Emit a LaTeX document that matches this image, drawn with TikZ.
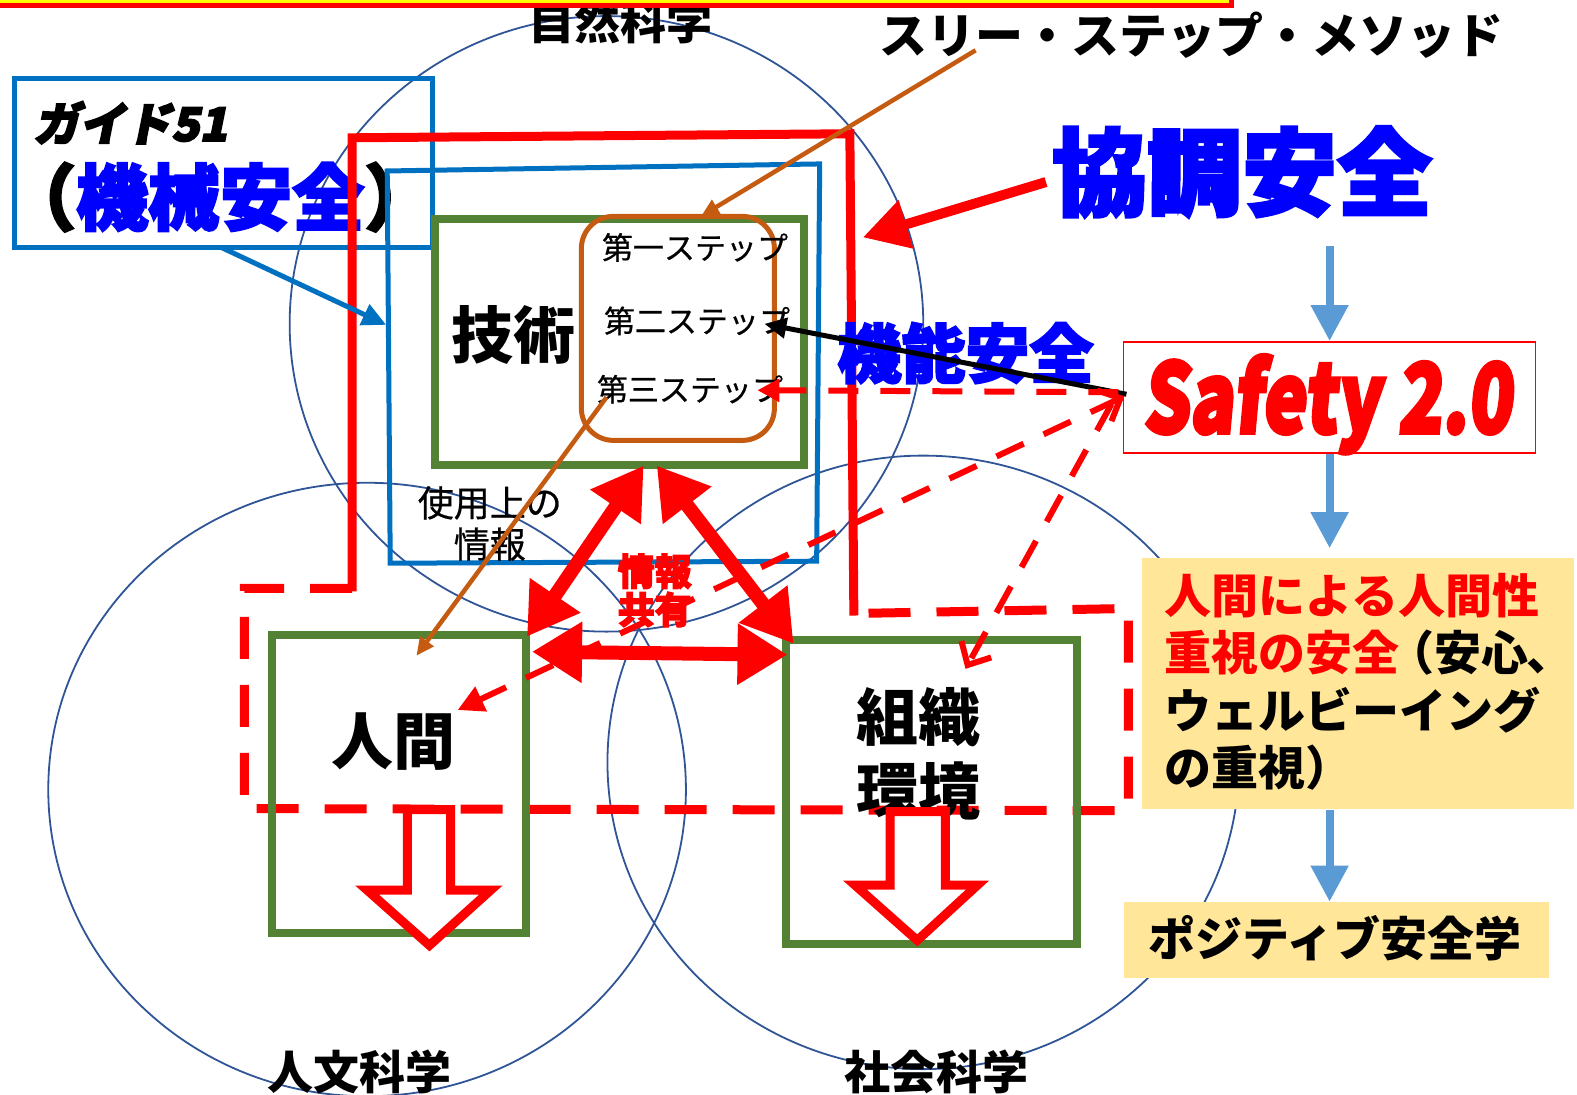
\documentclass[tikz,border=0pt]{standalone}
\usepackage{fontspec}
\usepackage{graphicx}
\setmainfont{Noto Sans CJK JP}
\newfontfamily\heavyjp{Noto Sans CJK JP}[FakeBold=3]
\newfontfamily\heavyit{Noto Sans CJK JP}[FakeBold=4,FakeSlant=0.2]
\newfontfamily\popit{Noto Sans CJK JP}[FakeBold=4,FakeSlant=0.12]
\newfontfamily\medjp{Noto Sans CJK JP}[FakeBold=0.6]
\usetikzlibrary{arrows.meta}
\definecolor{circblue}{HTML}{2F5597}
\definecolor{blueA}{HTML}{0070C0}
\definecolor{tblue}{HTML}{0000FF}
\definecolor{grn}{HTML}{548235}
\definecolor{org}{HTML}{C55A11}
\definecolor{lblue}{HTML}{5B9BD5}
\definecolor{yel}{HTML}{FFE699}
\definecolor{barY}{HTML}{FFFF00}
\begin{document}
\begin{tikzpicture}[x=1.0057pt,y=-1.0057pt,
  every node/.style={inner sep=0pt},
  fs/.style={font=\fontsize{#1}{#1}\selectfont\bfseries},
  fr/.style={font=\fontsize{#1}{#1}\selectfont\medjp},
  fh/.style={font=\fontsize{#1}{#1}\selectfont\heavyjp\bfseries},
  circ/.style={draw=circblue, line width=1.8pt},
  gbox/.style={draw=grn, line width=8pt},
  redline/.style={draw=red, line width=9pt},
  reddash/.style={draw=red, line width=9pt, dash pattern=on 42pt off 26pt},
  sdash/.style={draw=red, line width=6pt, dash pattern=on 30pt off 22pt},
  dbl/.style={draw=red, line width=14pt, {Triangle[length=50pt,width=58pt]}-{Triangle[length=50pt,width=58pt]}},
  hollow/.style={draw=red, fill=white, line width=9pt, line join=miter},
  orgarrow/.style={draw=org, line width=4.5pt, -{Triangle[length=18pt,width=16pt]}},
  bluearrow/.style={draw=blueA, line width=5pt, -{Triangle[length=24pt,width=22pt]}},
  lbarrow/.style={draw=lblue, line width=8pt, -{Triangle[length=36pt,width=36pt]}},
  blackarrow/.style={draw=black, line width=5pt, -{Triangle[length=22pt,width=20pt]}}
]
\useasboundingbox (0,0) rectangle (1568,1087.8);

% circles
\draw[circ] (603,322) ellipse [x radius=315, y radius=306];
\draw[circ] (365,785) ellipse [x radius=317, y radius=305];
\draw[circ] (918,758) ellipse [x radius=314, y radius=305];

\node[fs=46] (shizen) at (617,22) {自然科学};
\node[fs=46] (jinbun) at (357,1066) {人文科学};
\node[fs=46] (shakai) at (931,1066) {社会科学};

% top bar
\draw[draw=red, fill=barY, line width=5pt] (-10,-40) rectangle (1224,5.5);

% guide 51 box
\node[draw=blueA, line width=4.5pt, minimum width=418, minimum height=169] (guide) at (222,162) {};
\node[font=\fontsize{46}{46}\selectfont\heavyit\bfseries, anchor=west] (g51) at (33,122) {ガイド51};
\node[fh=72] (kikai) at (219,196) {（\textcolor{tblue}{機械安全}）};

% scope rectangles
\draw[draw=blueA, line width=5pt] (385,170) -- (815,163) -- (812,558) -- (388,560) -- cycle;
\draw[redline] (350,588) -- (350,137) -- (845,133) -- (849,612);
\draw[reddash] (350,585) -- (243,585) -- (243,804) -- (1122,806) -- (1122,605) -- (849,610);

% green boxes
\node[gbox, minimum width=369, minimum height=246] (gijutsuBox) at (615.5,340.5) {};
\node[gbox, minimum width=254, minimum height=298] (ningenBox) at (396.5,780) {};
\node[gbox, minimum width=291, minimum height=304] (soshikiBox) at (926.5,787) {};

% steps box
\node[draw=org, line width=5pt, rounded corners=32pt, minimum width=193, minimum height=224] (stepsBox) at (674,326.5) {};

% texts
\node[fs=62] (gijutsu) at (511,333) {技術};
\node[fs=62] (ningen) at (391,737) {人間};
\node[fs=62] (soshiki) at (913,713) {組織};
\node[fs=62] (kankyo) at (913,787) {環境};
\node[fr=31] (s1) at (691,246) {第一ステップ};
\node[fr=31] (s2) at (693,319) {第二ステップ};
\node[fr=31] (s3) at (686,387) {第三ステップ};
\node[fr=36] (shiyou) at (487,500) {使用上の};
\node[fr=36] (jouhou) at (487,541) {情報};

% hollow arrows
\draw[hollow] (405,805) -- (448,805) -- (448,885) -- (488,885) -- (427,940) -- (365,885) -- (405,885) -- cycle;
\draw[hollow] (885,807) -- (940,807) -- (940,880) -- (972,880) -- (912,935) -- (850,880) -- (885,880) -- cycle;

% info sharing arrows
\coordinate (gL) at (640,463);
\coordinate (nT) at (524,633);
\coordinate (gR) at (653,463);
\coordinate (sT) at (789,640);
\coordinate (nR) at (529,648);
\coordinate (sL) at (783,651);
\draw[dbl] (gL) -- (nT);
\draw[dbl] (gR) -- (sT);
\draw[dbl] (nR) -- (sL);
\node[fh=37, text=red] (joho) at (651,568) {情報};
\node[fh=37, text=red] (kyoyu) at (651,606) {共有};

% orange connectors
\node[fs=48] (tsm) at (1185,35) {スリー・ステップ・メソッド};
\coordinate (tsmEnd) at (970,50);
\coordinate (stepsTop) at (697,215);
\draw[orgarrow] (tsmEnd) -- (stepsTop);
\coordinate (s3foot) at (603,395);
\coordinate (ningenTop) at (414,652);
\draw[orgarrow] (s3foot) -- (ningenTop);

% guide arrow
\coordinate (guideFoot) at (220,246);
\coordinate (blueLeft) at (384,323);
\draw[bluearrow] (guideFoot) -- (blueLeft);

% right column
\node[draw=red, line width=1.5pt, fill=white, minimum width=412, minimum height=111] (safety) at (1322,395) {};
\node[font=\fontsize{96}{96}\selectfont\popit\bfseries, text=red] (safetyTxt) at (1320,402) {\scalebox{0.76}[1]{Safety 2.0}};
\node[fill=yel, minimum width=432, minimum height=251] (yellowBox) at (1350,680) {};
\node[font=\fontsize{47}{47}\selectfont\bfseries, anchor=west, text=red] (t1) at (1158,592) {人間による人間性};
\node[font=\fontsize{47}{47}\selectfont\bfseries, anchor=west] (t2) at (1158,649) {\textcolor{red}{重視の安全}\kern-12pt（安心\kern-2pt、\kern-26pt};
\node[font=\fontsize{47}{47}\selectfont\bfseries, anchor=west] (t3) at (1158,706) {ウェルビーイング};
\node[font=\fontsize{47}{47}\selectfont\bfseries, anchor=west] (t4) at (1158,763) {の重視）};
\node[fill=yel, minimum width=425, minimum height=76] (posiBox) at (1328.5,934.5) {};
\node[fs=47] (posi) at (1327,933) {ポジティブ安全学};

\coordinate (kyochoFoot) at (1322,245);
\draw[lbarrow] (kyochoFoot) -- (kyochoFoot |- safety.north);
\draw[lbarrow] (safety.south) -- ([yshift=10pt]safety.south |- yellowBox.north);
\draw[lbarrow] (safety.south |- yellowBox.south) -- (safety.south |- posiBox.north);

% kyocho anzen
\node[fh=95, text=tblue] (kyocho) at (1235,171) {協調安全};
\coordinate (kyArrowStart) at (1040,181);
\coordinate (redRectTR) at (858,236);
\draw[draw=red, line width=10pt, -{Triangle[length=45pt,width=48pt]}] (kyArrowStart) -- (redRectTR);

% kino anzen
\node[fh=64, text=tblue] (kino) at (960,351) {機能安全};
\coordinate (safetyL) at (1120,392);
\coordinate (s2end) at (760,322);
\draw[blackarrow] (safetyL) -- (s2end);

% dashed arrows from Safety 2.0
\coordinate (sfA) at (1112,390);
\coordinate (s3end) at (753,388);
\draw[sdash, -{Triangle[length=22pt,width=22pt]}] (sfA) -- (s3end);
\coordinate (sfB) at (1118,394);
\coordinate (ningenIn) at (455,706);
\draw[sdash, {Straight Barb[length=18pt,width=34pt]}-{Triangle[length=26pt,width=26pt]}] (sfB) -- (ningenIn);
\coordinate (sfC) at (1105,402);
\coordinate (soshikiIn) at (960,665);
\draw[sdash, -{Straight Barb[length=18pt,width=34pt]}] (sfC) -- (soshikiIn);
\end{tikzpicture}
\end{document}
